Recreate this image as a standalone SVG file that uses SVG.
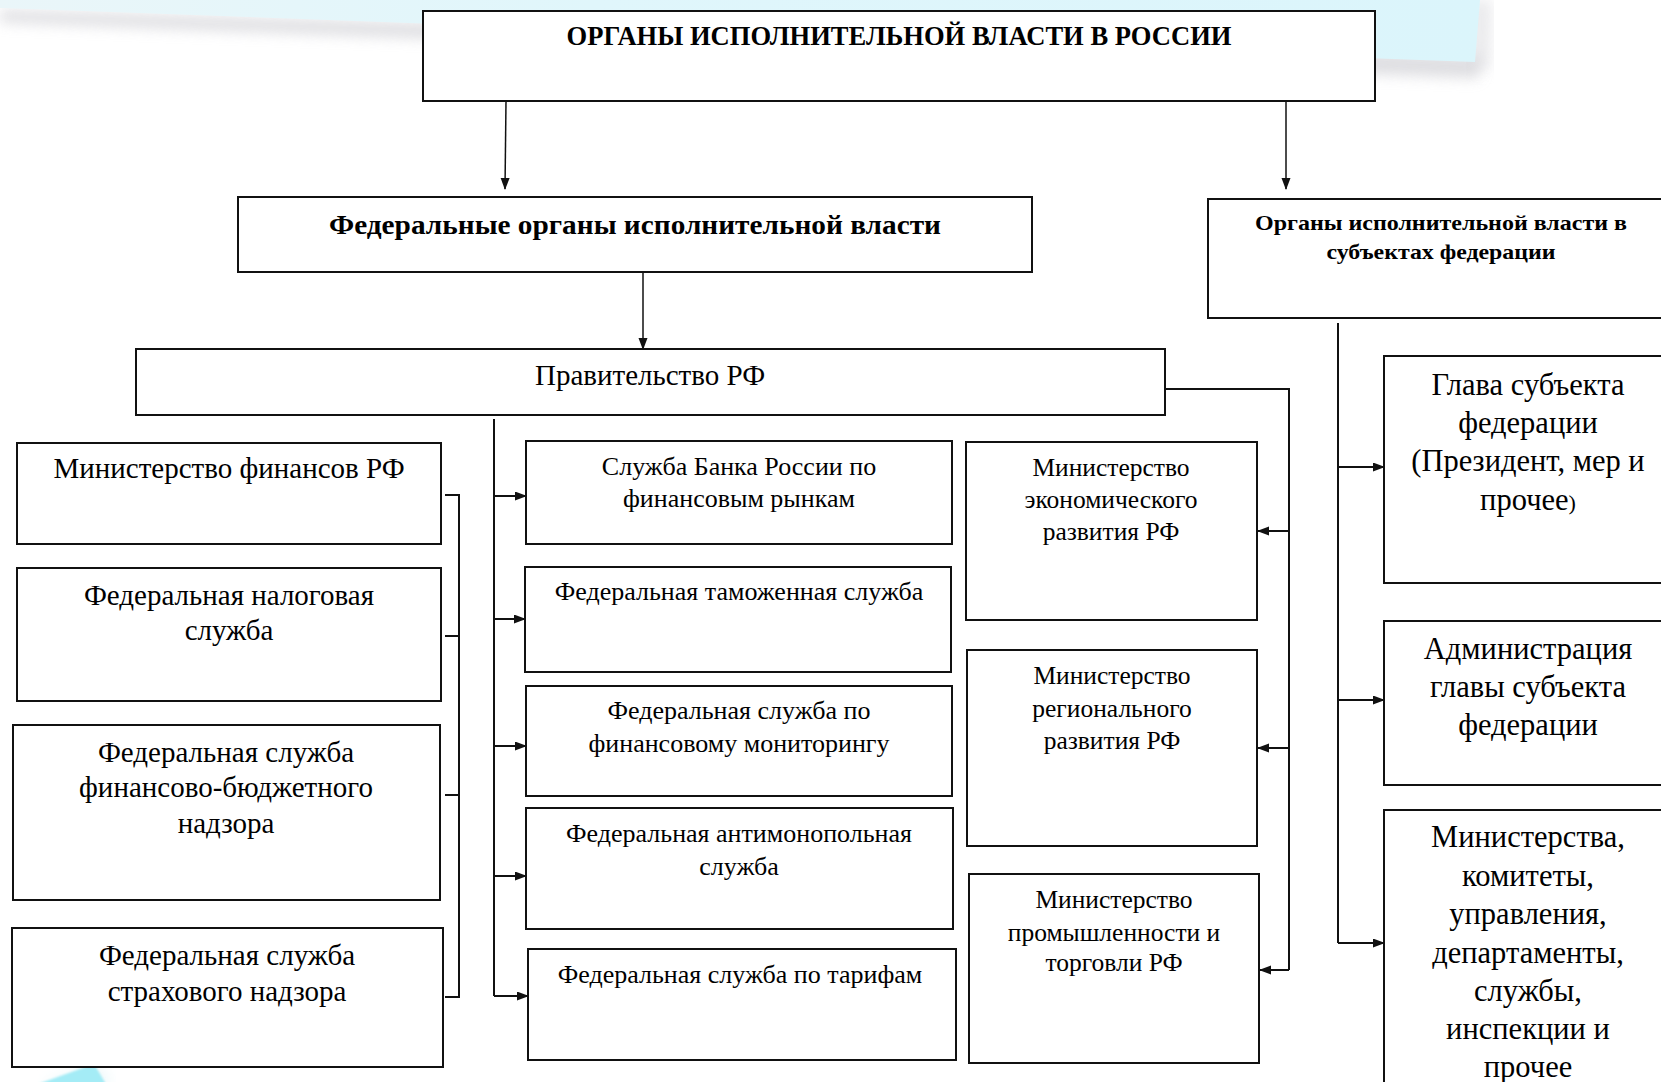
<svg xmlns="http://www.w3.org/2000/svg" width="1661" height="1082" viewBox="0 0 1661 1082">
<style>
.box{fill:#fff;stroke:#111;stroke-width:2}
.t{font-family:"Liberation Serif","Times New Roman",serif;fill:#000;text-anchor:middle}
.b{font-weight:bold}
.s26{font-size:26px}
.s29{font-size:29px}
.s25{font-size:25.5px}
.s31{font-size:30.5px}
.ln{fill:none;stroke:#111;stroke-width:2}
.ar{fill:none;stroke:#111;stroke-width:2;marker-end:url(#ah)}
.thin{fill:none;stroke:#111;stroke-width:1.5;marker-end:url(#ah)}
</style>
<defs>
<marker id="ah" markerUnits="userSpaceOnUse" markerWidth="12" markerHeight="10" refX="11" refY="4.5" orient="auto"><path d="M0,0 L12,4.5 L0,9 z" fill="#111"/></marker>
<filter id="sh" x="-5%" y="-50%" width="110%" height="300%"><feGaussianBlur stdDeviation="7"/></filter>
<filter id="soft" x="-50%" y="-50%" width="200%" height="200%"><feGaussianBlur stdDeviation="1"/></filter>
<linearGradient id="cy" x1="0" y1="0" x2="1" y2="0"><stop offset="0" stop-color="#eaf6f9"/><stop offset="0.4" stop-color="#e0f6fb"/><stop offset="1" stop-color="#dbf5fb"/></linearGradient>
</defs>
<rect width="1661" height="1082" fill="#fff"/>
<g id="background">
<polygon points="0,10 1480,56 1478,78 0,22" fill="#cfcfd4" opacity="0.7" filter="url(#sh)"/>
<polygon points="1470,0 1492,0 1490,70 1468,70" fill="#d6d6da" opacity="0.5" filter="url(#sh)"/>
<polygon points="0,0 1480,0 1475,62 0,8" fill="url(#cy)"/>
<polygon points="40,1084 96,1066 112,1084" fill="#e6f6f8" filter="url(#sh)"/>
<polygon points="38,1084 94,1064 106,1084" fill="#a4ecf6" filter="url(#soft)"/>
</g>
<g id="connectors">
<path class="thin" d="M506,101 L505,189"/>
<path class="thin" d="M1286,101 L1286,189"/>
<path class="thin" d="M643,272 L643,349"/>
<path class="ln" d="M1165,389 H1289 V970"/>
<path class="ar" d="M1289,531 H1258"/>
<path class="ar" d="M1289,748 H1258"/>
<path class="ar" d="M1289,970 H1260"/>
<path class="ln" d="M494,419 V996"/>
<path class="ar" d="M494,496 H526"/>
<path class="ar" d="M494,619 H525"/>
<path class="ar" d="M494,746 H526"/>
<path class="ar" d="M494,876 H526"/>
<path class="ar" d="M494,996 H528"/>
<path class="ln" d="M445,495 H459 V997 H445 M445,636 H459 M445,795 H459"/>
<path class="ln" d="M1338,323 V943"/>
<path class="ar" d="M1338,467 H1384"/>
<path class="ar" d="M1338,700 H1384"/>
<path class="ar" d="M1338,943 H1384"/>
</g>
<g id="n-root"><rect class="box" x="423" y="11" width="952" height="90"/><text class="t b" x="899" y="45" font-size="27" textLength="665" lengthAdjust="spacingAndGlyphs">ОРГАНЫ ИСПОЛНИТЕЛЬНОЙ ВЛАСТИ В РОССИИ</text></g>
<g id="n-federal"><rect class="box" x="238" y="197" width="794" height="75"/><text class="t b" x="635" y="234" font-size="27" textLength="612" lengthAdjust="spacingAndGlyphs">Федеральные органы исполнительной власти</text></g>
<g id="n-subjects"><rect class="box" x="1208" y="199" width="470" height="119"/><text class="t b" x="1441" y="230" font-size="22" textLength="372" lengthAdjust="spacingAndGlyphs">Органы исполнительной власти в</text><text class="t b" x="1441" y="259" font-size="22" textLength="229" lengthAdjust="spacingAndGlyphs">субъектах федерации</text></g>
<g id="n-gov"><rect class="box" x="136" y="349" width="1029" height="66"/><text class="t s29" x="650" y="385">Правительство РФ</text></g>
<g id="n-minfin"><rect class="box" x="17" y="443" width="424" height="101"/><text class="t s29" x="229" y="478">Министерство финансов РФ</text></g>
<g id="n-fns"><rect class="box" x="17" y="568" width="424" height="133"/><text class="t s29" x="229" y="605">Федеральная налоговая</text><text class="t s29" x="229" y="640">служба</text></g>
<g id="n-fsfbn"><rect class="box" x="13" y="725" width="427" height="175"/><text class="t s29" x="226" y="762">Федеральная служба</text><text class="t s29" x="226" y="797">финансово-бюджетного</text><text class="t s29" x="226" y="833">надзора</text></g>
<g id="n-fssn"><rect class="box" x="12" y="928" width="431" height="139"/><text class="t s29" x="227" y="965">Федеральная служба</text><text class="t s29" x="227" y="1001">страхового надзора</text></g>
<g id="n-bank"><rect class="box" x="526" y="441" width="426" height="103"/><text class="t s26" x="739" y="475">Служба Банка России по</text><text class="t s26" x="739" y="507">финансовым рынкам</text></g>
<g id="n-fts"><rect class="box" x="525" y="567" width="426" height="105"/><text class="t s26" x="739" y="600">Федеральная таможенная служба</text></g>
<g id="n-fsfm"><rect class="box" x="526" y="686" width="426" height="110"/><text class="t s26" x="739" y="719">Федеральная служба по</text><text class="t s26" x="739" y="752">финансовому мониторингу</text></g>
<g id="n-fas"><rect class="box" x="526" y="808" width="427" height="121"/><text class="t s26" x="739" y="842">Федеральная антимонопольная</text><text class="t s26" x="739" y="875">служба</text></g>
<g id="n-fst"><rect class="box" x="528" y="949" width="428" height="111"/><text class="t s26" x="740" y="983">Федеральная служба по тарифам</text></g>
<g id="n-mer"><rect class="box" x="966" y="442" width="291" height="178"/><text class="t s25" x="1111" y="476">Министерство</text><text class="t s25" x="1111" y="508">экономического</text><text class="t s25" x="1111" y="540">развития РФ</text></g>
<g id="n-mrr"><rect class="box" x="967" y="650" width="290" height="196"/><text class="t s25" x="1112" y="684">Министерство</text><text class="t s25" x="1112" y="717">регионального</text><text class="t s25" x="1112" y="749">развития РФ</text></g>
<g id="n-mpt"><rect class="box" x="969" y="874" width="290" height="189"/><text class="t s25" x="1114" y="908">Министерство</text><text class="t s25" x="1114" y="941">промышленности и</text><text class="t s25" x="1114" y="971">торговли РФ</text></g>
<g id="n-head"><rect class="box" x="1384" y="356" width="300" height="227"/><text class="t s31" x="1528" y="395">Глава субъекта</text><text class="t s31" x="1528" y="433">федерации</text><text class="t s31" x="1528" y="471">(Президент, мер и</text><text class="t s31" x="1528" y="510">прочее<tspan font-size="22">)</tspan></text></g>
<g id="n-admin"><rect class="box" x="1384" y="621" width="300" height="164"/><text class="t s31" x="1528" y="659">Администрация</text><text class="t s31" x="1528" y="697">главы субъекта</text><text class="t s31" x="1528" y="735">федерации</text></g>
<g id="n-regmin"><rect class="box" x="1384" y="810" width="300" height="300"/><text class="t s31" x="1528" y="847">Министерства,</text><text class="t s31" x="1528" y="886">комитеты,</text><text class="t s31" x="1528" y="924">управления,</text><text class="t s31" x="1528" y="963">департаменты,</text><text class="t s31" x="1528" y="1001">службы,</text><text class="t s31" x="1528" y="1039">инспекции и</text><text class="t s31" x="1528" y="1077">прочее</text></g>
</svg>
